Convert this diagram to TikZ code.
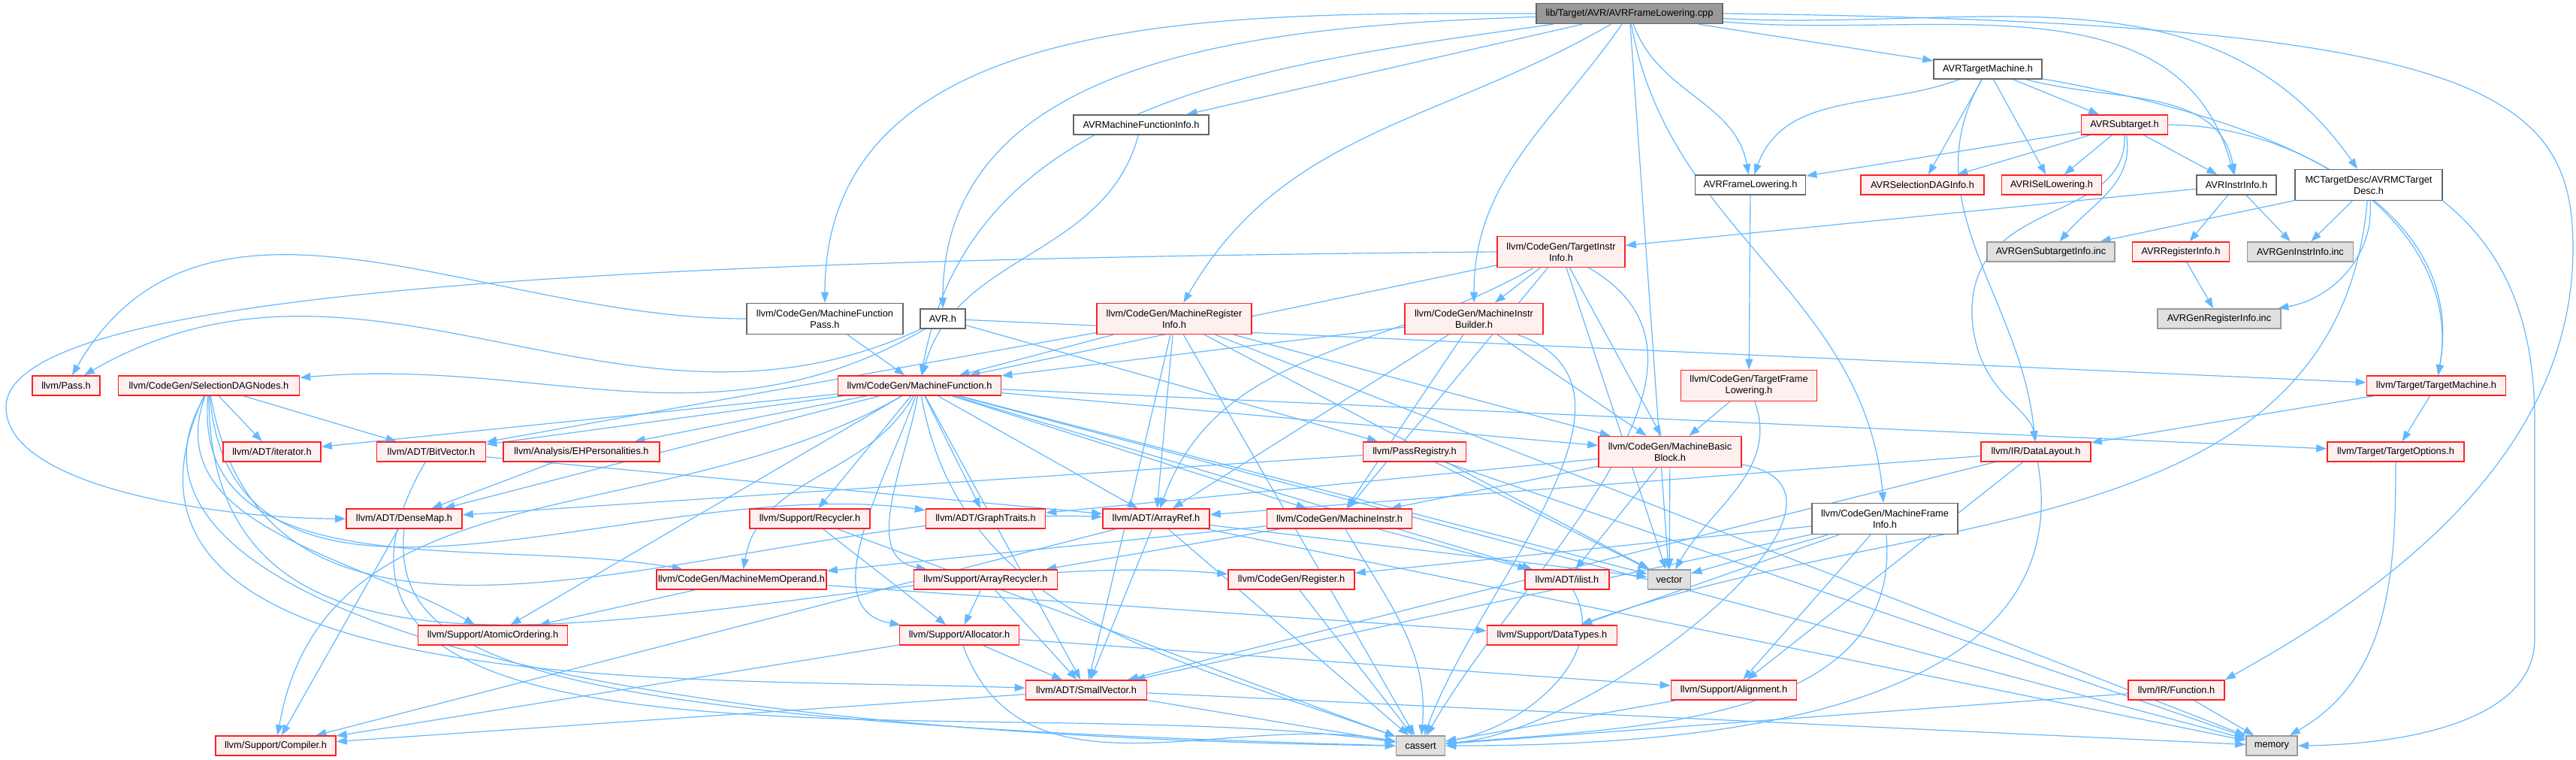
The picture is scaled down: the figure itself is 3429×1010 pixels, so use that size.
\documentclass[tikz,border=0pt]{standalone}
\usepackage{fontspec}
\setmainfont{Liberation Sans}
\usetikzlibrary{arrows.meta}
\definecolor{edgec}{HTML}{63B8FF}
\definecolor{redb}{HTML}{FF2020}
\definecolor{redf}{HTML}{FFF0F0}
\definecolor{greyf}{HTML}{E0E0E0}
\definecolor{greyb}{HTML}{999999}
\definecolor{darkb}{HTML}{666666}
\definecolor{rootf}{HTML}{999999}
\pgfdeclarelayer{bg}
\pgfsetlayers{bg,main}
\begin{document}
\begin{tikzpicture}[x=0.25pt,y=0.25pt,
  bx/.style={draw, line width=0.4pt, font=\fontsize{3.2}{3.75}\selectfont, inner xsep=0.5pt, inner ysep=0pt, align=center, minimum height=6.5pt},
  two/.style={minimum height=10.25pt},
  wd/.style={minimum width=#1*0.25pt},
  nb/.style={bx, draw=darkb, fill=white},
  rb/.style={bx, draw=redb, fill=redf},
  gb/.style={bx, draw=greyb, fill=greyf},
  rt/.style={bx, draw=darkb, fill=rootf},
  ed/.style={draw=edgec, line width=0.3pt, -{Triangle[length=3.5pt,width=2.5pt]}}]
\useasboundingbox (0,0) rectangle (3429,-1010);
% ---------------- nodes ----------------
\node[rt,wd=248,minimum height=6.75pt] (root) at (2169,-18) {lib/Target/AVR/AVRFrameLowering.cpp};
\node[nb,wd=144] (atm) at (2646,-92) {AVRTargetMachine.h};
\node[nb,wd=180] (amfi) at (1519,-166) {AVRMachineFunctionInfo.h};
\node[rb,wd=115] (asub) at (2828,-166) {AVRSubtarget.h};
\node[nb,wd=147] (afl) at (2330,-246) {AVRFrameLowering.h};
\node[rb,wd=164] (asdag) at (2559,-246) {AVRSelectionDAGInfo.h};
\node[rb,wd=133] (aisel) at (2731,-246) {AVRISelLowering.h};
\node[nb,wd=106] (aii) at (2977,-246) {AVRInstrInfo.h};
\node[nb,wd=196,two] (mctd) at (3153,-246) {MCTargetDesc/AVRMCTarget\\Desc.h};
\node[rb,wd=170,two] (tii) at (2078,-335) {llvm/CodeGen/TargetInstr\\Info.h};
\node[gb,wd=170] (agsub) at (2730,-335) {AVRGenSubtargetInfo.inc};
\node[rb,wd=129] (areg) at (2903,-335) {AVRRegisterInfo.h};
\node[gb,wd=141] (agii) at (3062,-335) {AVRGenInstrInfo.inc};
\node[nb,wd=208,two] (mfp) at (1098,-424) {llvm/CodeGen/MachineFunction\\Pass.h};
\node[nb,wd=60] (avrh) at (1255,-424) {AVR.h};
\node[rb,wd=206,two] (mri) at (1563,-424) {llvm/CodeGen/MachineRegister\\Info.h};
\node[rb,wd=184,two] (mib) at (1962,-424) {llvm/CodeGen/MachineInstr\\Builder.h};
\node[gb,wd=164] (agreg) at (2954,-424) {AVRGenRegisterInfo.inc};
\node[rb,wd=90] (pass) at (88,-513) {llvm/Pass.h};
\node[rb,wd=241] (sdn) at (278,-513) {llvm/CodeGen/SelectionDAGNodes.h};
\node[rb,wd=217] (mf) at (1224,-513) {llvm/CodeGen/MachineFunction.h};
\node[rb,wd=181,two] (tfl) at (2328,-513) {llvm/CodeGen/TargetFrame\\Lowering.h};
\node[rb,wd=185] (tm) at (3243,-513) {llvm/Target/TargetMachine.h};
\node[rb,wd=130] (iter) at (362,-601) {llvm/ADT/iterator.h};
\node[rb,wd=145] (bv) at (574,-601) {llvm/ADT/BitVector.h};
\node[rb,wd=208] (eh) at (774,-601) {llvm/Analysis/EHPersonalities.h};
\node[rb,wd=137] (preg) at (1883,-601) {llvm/PassRegistry.h};
\node[rb,wd=190,two] (mbb) at (2223,-601) {llvm/CodeGen/MachineBasic\\Block.h};
\node[rb,wd=146] (dl) at (2710,-601) {llvm/IR/DataLayout.h};
\node[rb,wd=182] (topt) at (3189,-601) {llvm/Target/TargetOptions.h};
\node[rb,wd=154] (dm) at (538,-690) {llvm/ADT/DenseMap.h};
\node[rb,wd=160] (rec) at (1078,-690) {llvm/Support/Recycler.h};
\node[rb,wd=159] (gt) at (1312,-690) {llvm/ADT/GraphTraits.h};
\node[rb,wd=142] (ar) at (1539,-690) {llvm/ADT/ArrayRef.h};
\node[rb,wd=193] (mi) at (1783,-690) {llvm/CodeGen/MachineInstr.h};
\node[nb,wd=194,two] (mfi) at (2509,-690) {llvm/CodeGen/MachineFrame\\Info.h};
\node[rb,wd=208] (mmo) at (987,-771) {llvm/CodeGen/MachineMemOperand.h};
\node[rb,wd=191] (arec) at (1312,-771) {llvm/Support/ArrayRecycler.h};
\node[rb,wd=168] (reg) at (1719,-771) {llvm/CodeGen/Register.h};
\node[rb,wd=112] (ilist) at (2086,-771) {llvm/ADT/ilist.h};
\node[gb,wd=57] (vec) at (2222,-771) {vector};
\node[rb,wd=199] (ato) at (656,-845) {llvm/Support/AtomicOrdering.h};
\node[rb,wd=159] (alloc) at (1277,-845) {llvm/Support/Allocator.h};
\node[rb,wd=173] (dt) at (2066,-845) {llvm/Support/DataTypes.h};
\node[rb,wd=161] (sv) at (1446,-918) {llvm/ADT/SmallVector.h};
\node[rb,wd=167] (align) at (2308,-918) {llvm/Support/Alignment.h};
\node[rb,wd=128] (func) at (2897,-918) {llvm/IR/Function.h};
\node[rb,wd=160] (comp) at (367,-992) {llvm/Support/Compiler.h};
\node[gb,wd=65] (cas) at (1891,-992) {cassert};
\node[gb,wd=68] (mem) at (3024,-992) {memory};
% ---------------- edges ----------------
\begin{pgfonlayer}{bg}
% root
\draw[ed] (root) to[out=180,in=90] (mfp);
\draw[ed] (root) to[out=182,in=90] (avrh);
\draw[ed] (root) to[out=188,in=80] (mf);
\draw[ed] (root) -- (amfi);
\draw[ed] (root) to[out=-150,in=60] (mri);
\draw[ed] (root) to[out=-125,in=90] (mib);
\draw[ed] (root) -- (vec);
\draw[ed] (root) to[out=-70,in=100] (afl);
\draw[ed] (root) -- (atm);
\draw[ed] (root) to[out=-5,in=105] (aii);
\draw[ed] (root) to[out=-3,in=125] (mctd);
\draw[ed] (root.east) .. controls (3300,-30) and (3425,-120) .. (3425,-330) .. controls (3425,-620) and (3150,-800) .. (func.north east);
\draw[ed] (root) to[out=-80,in=95] (mfi);
% AVRTargetMachine.h
\draw[ed] (atm) to[out=200,in=70] (afl);
\draw[ed] (atm) -- (asdag);
\draw[ed] (atm) -- (aisel);
\draw[ed] (atm) -- (asub);
\draw[ed] (atm) to[out=-15,in=100] (aii);
\draw[ed] (atm) to[out=-10,in=80] (tm);
\draw[ed] (atm) to[out=-120,in=95] (dl);
% AVRSubtarget.h
\draw[ed] (asub) -- (afl);
\draw[ed] (asub) -- (asdag);
\draw[ed] (asub) -- (aisel);
\draw[ed] (asub) -- (aii);
\draw[ed] (asub) to[out=-80,in=50] (agsub);
\draw[ed] (asub.south) .. controls (2832,-300) and (2620,-260) .. (2625,-420) .. controls (2630,-520) and (2700,-540) .. (dl.north);
\draw[ed] (asub) to[out=0,in=80] (tm);
% AVRInstrInfo.h, AVRRegisterInfo.h
\draw[ed] (aii) -- (tii);
\draw[ed] (aii) -- (areg);
\draw[ed] (aii) -- (agii);
\draw[ed] (areg) -- (agreg);
% MCTargetDesc
\draw[ed] (mctd) -- (agsub);
\draw[ed] (mctd) -- (agii);
\draw[ed] (mctd) to[out=-85,in=10] (agreg);
\draw[ed] (mctd) to[out=-95,in=20] (dt);
\draw[ed] (mctd.south east) .. controls (3330,-330) and (3374,-420) .. (3374,-560) -- (3374,-850) .. controls (3374,-960) and (3200,-990) .. (mem.east);
% frame lowering
\draw[ed] (afl) -- (tfl);
\draw[ed] (tfl) -- (mbb);
\draw[ed] (tfl) to[out=-70,in=60] (vec);
\draw[ed] (amfi) to[out=-105,in=75] (mf);
% AVR.h
\draw[ed] (avrh) to[out=-150,in=5] (sdn);
\draw[ed] (avrh) to[out=-155,in=30] (pass);
\draw[ed] (avrh) -- (preg);
\draw[ed] (avrh) -- (tm);
% MachineFunctionPass.h
\draw[ed] (mfp) -- (mf);
\draw[ed] (mfp) to[out=180,in=60] (pass);
% MachineRegisterInfo.h
\draw[ed] (mri) -- (bv);
\draw[ed] (mri) -- (mf);
\draw[ed] (mri) -- (ar);
\draw[ed] (mri) -- (sv);
\draw[ed] (mri) -- (cas);
\draw[ed] (mri) -- (mbb);
\draw[ed] (mri) -- (vec);
\draw[ed] (mri) -- (mem);
% TargetInstrInfo.h
\draw[ed] (tii.west) .. controls (900,-345) and (15,-380) .. (8,-540) .. controls (5,-650) and (300,-690) .. (dm.west);
\draw[ed] (tii) -- (mf);
\draw[ed] (tii) to[out=-150,in=70] (ar);
\draw[ed] (tii) -- (mib);
\draw[ed] (tii) -- (mi);
\draw[ed] (tii) -- (mbb);
\draw[ed] (tii) to[out=-30,in=60] (cas);
\draw[ed] (tii) -- (vec);
% MachineInstrBuilder.h
\draw[ed] (mib) -- (mf);
\draw[ed] (mib) -- (ar);
\draw[ed] (mib) -- (mi);
\draw[ed] (mib) -- (mbb);
\draw[ed] (mib) to[out=-20,in=70] (cas);
% MachineFunction.h
\draw[ed] (mf) -- (ar);
\draw[ed] (mf) -- (gt);
\draw[ed] (mf) -- (sv);
\draw[ed] (mf) -- (ilist);
\draw[ed] (mf) -- (iter);
\draw[ed] (mf) -- (bv);
\draw[ed] (mf) -- (dm);
\draw[ed] (mf) -- (eh);
\draw[ed] (mf) -- (mbb);
\draw[ed] (mf) -- (mi);
\draw[ed] (mf) to[out=-120,in=80] (mmo);
\draw[ed] (mf) to[out=-110,in=170] (alloc);
\draw[ed] (mf) to[out=-100,in=170] (arec);
\draw[ed] (mf) -- (ato);
\draw[ed] (mf) to[out=-150,in=80] (comp);
\draw[ed] (mf) -- (rec);
\draw[ed] (mf) -- (topt);
\draw[ed] (mf) to[out=-80,in=160] (cas);
\draw[ed] (mf) -- (mem);
\draw[ed] (mf) -- (vec);
% SelectionDAGNodes.h
\draw[ed] (sdn) -- (iter);
\draw[ed] (sdn) -- (bv);
\draw[ed] (sdn) to[out=-80,in=178] (ar);
\draw[ed] (sdn) to[out=-85,in=172] (gt);
\draw[ed] (sdn) to[out=-115,in=178] (sv);
\draw[ed] (sdn) to[out=-95,in=170] (mmo);
\draw[ed] (sdn) to[out=-90,in=175] (reg);
\draw[ed] (sdn) to[out=-110,in=150] (ato);
\draw[ed] (sdn.250) .. controls (130,-760) and (600,-975) .. (cas.west);
% ADT etc.
\draw[ed] (bv) -- (ar);
\draw[ed] (bv) to[out=-120,in=172] (cas);
\draw[ed] (eh) -- (dm);
\draw[ed] (dm) -- (comp);
\draw[ed] (dm.south) .. controls (520,-880) and (700,-960) .. (cas.west);
\draw[ed] (rec) -- (alloc);
\draw[ed] (rec) -- (cas);
\draw[ed] (arec) -- (sv);
\draw[ed] (arec) -- (alloc);
\draw[ed] (alloc) -- (sv);
\draw[ed] (alloc) -- (align);
\draw[ed] (alloc) -- (comp);
\draw[ed] (alloc) to[out=-70,in=170] (cas);
\draw[ed] (sv) -- (comp);
\draw[ed] (sv) -- (cas);
\draw[ed] (sv) -- (mem);
\draw[ed] (ar) -- (sv);
\draw[ed] (ar) -- (comp);
\draw[ed] (ar) -- (cas);
\draw[ed] (ar) -- (mem);
\draw[ed] (ar) -- (vec);
\draw[ed] (mmo) -- (ato);
\draw[ed] (mmo) -- (dt);
\draw[ed] (reg) -- (cas);
\draw[ed] (mi) -- (ilist);
\draw[ed] (mi) -- (mmo);
\draw[ed] (mi) -- (arec);
\draw[ed] (mi) to[out=-60,in=85] (cas);
\draw[ed] (mbb) -- (gt);
\draw[ed] (mbb) -- (ilist);
\draw[ed] (mbb) -- (mi);
\draw[ed] (mbb) to[out=-10,in=5] (cas);
\draw[ed] (mbb) -- (vec);
\draw[ed] (ilist) to[out=-60,in=10] (cas);
\draw[ed] (preg) -- (dm);
\draw[ed] (preg) -- (mem);
\draw[ed] (preg) -- (vec);
\draw[ed] (mfi) -- (sv);
\draw[ed] (mfi) -- (reg);
\draw[ed] (mfi) -- (align);
\draw[ed] (mfi) -- (dt);
\draw[ed] (mfi) to[out=-85,in=5] (cas);
\draw[ed] (mfi) -- (vec);
\draw[ed] (dl) -- (ar);
\draw[ed] (dl) -- (sv);
\draw[ed] (dl) -- (align);
\draw[ed] (dl) to[out=-80,in=0] (cas);
\draw[ed] (tm) -- (dl);
\draw[ed] (tm) -- (topt);
\draw[ed] (topt) to[out=-90,in=30] (mem);
\draw[ed] (func) -- (cas);
\draw[ed] (func) -- (mem);
\draw[ed] (align) -- (cas);
\end{pgfonlayer}
\end{tikzpicture}
\end{document}
